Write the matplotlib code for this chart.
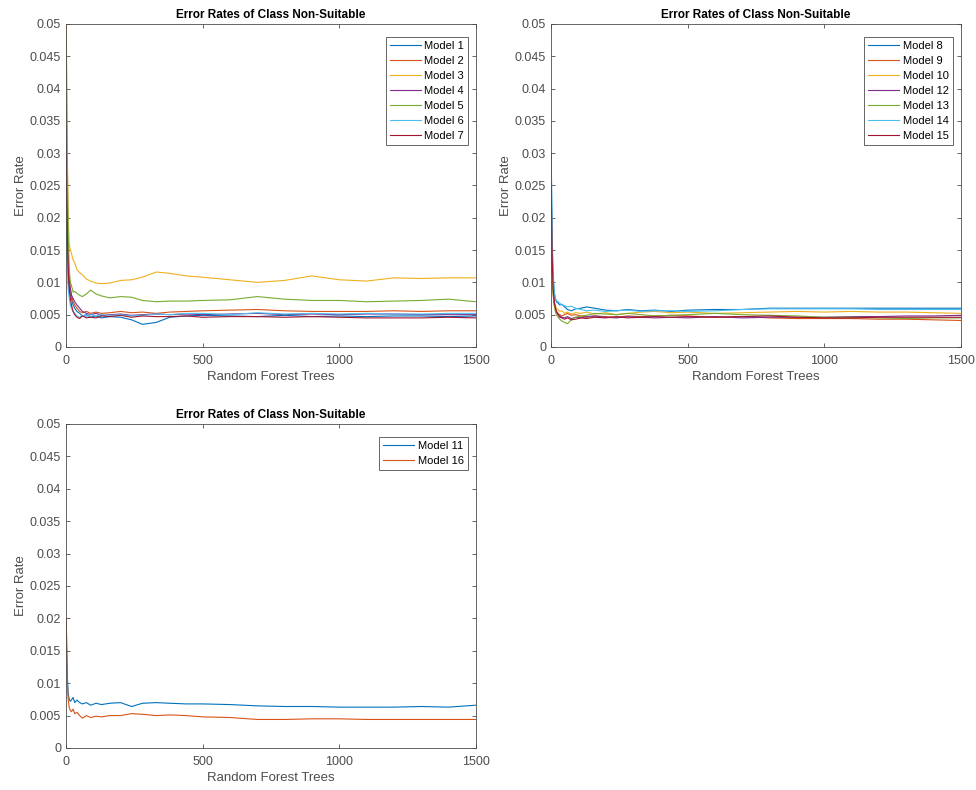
import numpy as np
import matplotlib
matplotlib.use('Agg')
import matplotlib.pyplot as plt

plt.rcParams['font.family'] = ['Liberation Sans', 'DejaVu Sans']

trees = [1, 3, 5, 8, 12, 16, 20, 26, 32, 40, 50, 60, 75, 90, 110, 130, 160, 200,
         240, 280, 330, 380, 440, 500, 600, 700, 800, 900, 1000, 1100, 1200, 1300, 1400, 1500]

# error rates, in units of 0.001
m1 = [25, 20, 15, 11, 9, 8, 7.5, 6.5, 6, 5.5, 5.2, 4.8, 5, 4.6, 4.8, 4.5, 4.7, 4.6, 4.2, 3.5,
      3.8, 4.6, 4.8, 4.9, 4.8, 4.7, 4.9, 4.7, 4.8, 4.7, 4.8, 4.8, 4.7, 4.8]
m2 = [37, 28, 20, 14, 11, 9, 8, 7, 6.5, 6, 5.5, 5.3, 5.5, 5.2, 5.4, 5.2, 5.3, 5.5, 5.3, 5.4,
      5.2, 5.4, 5.5, 5.6, 5.7, 5.8, 5.6, 5.5, 5.5, 5.5, 5.6, 5.5, 5.6, 5.6]
m3 = [50, 40, 30, 20, 16, 15, 14.5, 13.5, 13, 12, 11.5, 11.2, 10.5, 10.2, 9.9, 9.8, 9.9, 10.3, 10.4, 10.8,
      11.6, 11.4, 11.0, 10.8, 10.4, 10.0, 10.3, 11.0, 10.4, 10.2, 10.7, 10.6, 10.7, 10.7]
m4 = [34, 26, 19, 13, 10, 9, 8, 7.5, 7, 6.5, 6, 5.5, 5.2, 5, 5.2, 4.9, 5, 5.1, 4.9, 5.0,
      5.1, 5.0, 5.1, 5.0, 5.1, 5.2, 5.0, 5.1, 5.0, 5.1, 5.1, 5.0, 5.0, 5.0]
m5 = [48, 38, 28, 18, 12, 10, 9.5, 8.5, 8.6, 8.3, 8, 7.8, 8.2, 8.8, 8.2, 7.9, 7.6, 7.8, 7.7, 7.2,
      7.0, 7.1, 7.1, 7.2, 7.3, 7.8, 7.4, 7.2, 7.2, 7.0, 7.1, 7.2, 7.4, 7.0]
m6 = [20, 16, 12, 9, 7.5, 6.5, 6, 5.5, 5.2, 4.8, 4.6, 4.9, 4.7, 5, 4.8, 5, 4.9, 5.0, 4.8, 4.9,
      5.1, 5.0, 5.2, 5.2, 5.0, 5.3, 5.1, 5.2, 5.1, 5.2, 5.1, 5.1, 5.2, 5.2]
m7 = [30, 23, 17, 12, 9, 7.5, 6.5, 5.5, 5, 4.6, 4.4, 4.8, 4.5, 4.6, 4.5, 4.8, 4.7, 4.9, 4.6, 4.8,
      4.7, 4.7, 4.8, 4.6, 4.7, 4.7, 4.6, 4.7, 4.6, 4.5, 4.5, 4.5, 4.6, 4.5]

m8 = [30, 22, 16, 11, 8.5, 7.5, 7, 6.8, 6.5, 6.6, 6.2, 5.8, 5.6, 5.9, 6.0, 6.2, 6.0, 5.7, 5.6, 5.8,
      5.6, 5.7, 5.5, 5.7, 5.8, 5.8, 6.0, 6.0, 6.0, 6.0, 6.0, 6.0, 6.0, 6.0]
m9 = [20, 15, 11, 8, 6.5, 6, 5.5, 5.2, 5, 4.8, 5, 5.2, 4.9, 5, 4.8, 4.6, 4.8, 4.7, 4.6, 4.8,
      4.7, 4.8, 4.9, 4.8, 4.6, 4.7, 4.5, 4.4, 4.4, 4.4, 4.3, 4.3, 4.2, 4.1]
m10 = [18, 14, 11, 8.5, 7, 6.5, 6, 5.8, 5.5, 5.6, 5.2, 5.4, 5.1, 5.3, 5.2, 5.4, 5.1, 5.3, 5.0, 5.2,
       5.4, 5.5, 5.3, 5.4, 5.2, 5.3, 5.4, 5.5, 5.4, 5.5, 5.4, 5.4, 5.3, 5.2]
m12 = [22, 16, 12, 9, 7, 6, 5.5, 5, 4.8, 4.6, 4.5, 4.7, 4.4, 4.6, 4.5, 4.7, 4.8, 4.6, 4.5, 4.7,
       4.6, 4.5, 4.6, 4.5, 4.7, 4.5, 4.6, 4.6, 4.6, 4.7, 4.7, 4.8, 4.8, 4.9]
m13 = [24, 17, 12, 8.5, 6.5, 5.5, 5, 4.6, 4.3, 4.0, 3.8, 3.6, 4.2, 4.6, 4.8, 4.9, 5.2, 5.1, 5.0, 5.2,
       5.0, 4.8, 4.9, 5.0, 5.2, 5.0, 4.9, 4.8, 4.6, 4.6, 4.5, 4.4, 4.5, 4.5]
m14 = [29, 21, 15, 11, 8.5, 7.5, 7.2, 7, 6.8, 6.5, 6.4, 6.2, 6.3, 6, 5.8, 5.6, 5.7, 5.5, 5.6, 5.7,
       5.5, 5.6, 5.6, 5.5, 5.6, 5.8, 5.9, 5.9, 5.9, 5.9, 5.8, 5.8, 5.8, 5.8]
m15 = [25, 18, 13, 9, 7, 6, 5.5, 5, 4.6, 4.5, 4.3, 4.5, 4.2, 4.3, 4.5, 4.4, 4.6, 4.5, 4.7, 4.5,
       4.6, 4.7, 4.6, 4.7, 4.6, 4.7, 4.8, 4.6, 4.5, 4.5, 4.6, 4.6, 4.6, 4.6]

m11 = [20, 15, 11, 8.5, 7.5, 7.2, 7.4, 7.8, 7.0, 7.4, 7.0, 6.8, 7.0, 6.6, 6.9, 6.7, 6.9, 7.0, 6.4, 6.9,
       7.0, 6.9, 6.8, 6.8, 6.7, 6.5, 6.4, 6.4, 6.3, 6.3, 6.3, 6.4, 6.3, 6.6]
m16 = [20, 14, 10, 7.5, 6.2, 5.8, 5.6, 6.0, 5.3, 5.5, 5.0, 4.6, 5.0, 4.7, 4.9, 4.8, 5.0, 5.0, 5.3, 5.2,
       5.0, 5.1, 5.0, 4.8, 4.7, 4.4, 4.4, 4.5, 4.5, 4.4, 4.4, 4.4, 4.4, 4.4]

panels = [
    (['Model 1', 'Model 2', 'Model 3', 'Model 4', 'Model 5', 'Model 6', 'Model 7'],
     [m1, m2, m3, m4, m5, m6, m7]),
    (['Model 8', 'Model 9', 'Model 10', 'Model 12', 'Model 13', 'Model 14', 'Model 15'],
     [m8, m9, m10, m12, m13, m14, m15]),
    (['Model 11', 'Model 16'], [m11, m16]),
]

yticks = [0, 0.005, 0.01, 0.015, 0.02, 0.025, 0.03, 0.035, 0.04, 0.045, 0.05]
ytick_labels = ['0', '0.005', '0.01', '0.015', '0.02', '0.025', '0.03', '0.035', '0.04', '0.045', '0.05']
xticks = [0, 500, 1000, 1500]

# MATLAB default line colours
colors = ['#0072BD', '#D95319', '#EDB120', '#7E2F8E', '#77AC30', '#4DBEEE', '#A2142F']

fig = plt.figure(figsize=(9.76, 7.9), dpi=100)
positions = [[0.0676, 0.5608, 0.420, 0.4089],
             [0.5645, 0.5608, 0.420, 0.4089],
             [0.0676, 0.0532, 0.420, 0.4101]]

for pos, (names, series) in zip(positions, panels):
    ax = fig.add_axes(pos)
    for i, (name, vals) in enumerate(zip(names, series)):
        ax.plot(trees, np.array(vals) / 1000, color=colors[i], lw=0.8, label=name)
    ax.set_xlim(0, 1500)
    ax.set_ylim(0, 0.05)
    ax.set_xticks(xticks)
    ax.set_yticks(yticks)
    ax.set_yticklabels(ytick_labels)
    ax.tick_params(direction='in', top=True, right=True, labelsize=9,
                   colors='#4d4d4d', length=3, width=0.6)
    ax.tick_params(axis='x', pad=6)
    for sp in ax.spines.values():
        sp.set_color('#4d4d4d')
        sp.set_linewidth(0.6)
    ax.set_title('Error Rates of Class Non-Suitable', fontsize=8.5, fontweight='bold', pad=4)
    ax.set_xlabel('Random Forest Trees', fontsize=9.5, color='#4d4d4d', labelpad=3)
    ax.set_ylabel('Error Rate', fontsize=9.5, color='#4d4d4d', labelpad=2)
    leg = ax.legend(loc='upper right', bbox_to_anchor=(0.98, 0.96), fontsize=8,
                    fancybox=False, framealpha=1, edgecolor='#4d4d4d',
                    handlelength=2.8, borderpad=0.35, labelspacing=0.45,
                    handletextpad=0.3, borderaxespad=0)
    leg.get_frame().set_linewidth(0.6)

fig.savefig('out.png', dpi=100)
